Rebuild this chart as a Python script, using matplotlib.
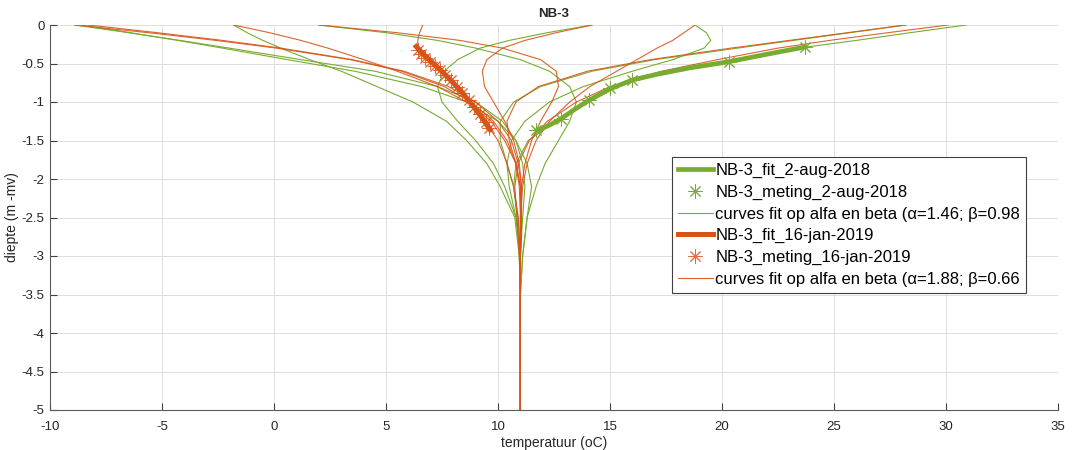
"""NB-3: gemeten en gefitte temperatuur-diepteprofielen (aug 2018 / jan 2019)."""
import matplotlib
matplotlib.use('Agg')
import matplotlib.pyplot as plt

GREEN = '#77AC30'
RED = '#D95319'

# shared depth grid (m below surface) for the thin family curves
DEPTH = [0, 0.1, 0.2, 0.3, 0.45, 0.6, 0.8, 1.0, 1.25, 1.5, 1.8, 2.1, 2.5, 3.0, 3.5, 5.0]

# curves fit op alfa en beta (alpha=1.46; beta=0.98) -- temperature per depth
GREEN_CURVES = [
    [-8.9, -6.5, -4.2, -2.0, 1.2, 4.5, 7.3, 9.0, 10.2, 10.8, 11.1, 11.2, 11.1, 11.0, 11.0, 11.0],
    [-8.6, -6.4, -4.3, -2.3, 0.6, 3.6, 6.6, 8.6, 10.0, 10.8, 11.3, 11.5, 11.3, 11.1, 11.0, 11.0],
    [-1.8, -1.2, -0.5, 0.3, 1.6, 3.0, 4.6, 6.2, 7.7, 8.6, 9.5, 10.1, 10.75, 10.95, 11.0, 11.0],
    [2.0, 5.0, 7.3, 9.0, 11.0, 12.3, 13.2, 13.5, 13.2, 12.7, 12.1, 11.7, 11.3, 11.1, 11.0, 11.0],
    [14.2, 12.2, 10.5, 9.2, 8.2, 7.6, 7.3, 7.5, 8.2, 9.0, 9.8, 10.3, 10.8, 11.0, 11.0, 11.0],
    [18.8, 19.3, 19.5, 19.2, 17.8, 16.0, 13.8, 12.3, 11.2, 10.6, 10.4, 10.5, 10.8, 11.0, 11.0, 11.0],
    [30.9, 28.4, 26.0, 23.4, 20.8, 17.7, 15.1, 13.95, 12.6, 11.35, 10.8, 10.7, 10.85, 10.95, 11.0, 11.0],
    [28.2, 25.7, 23.2, 20.7, 17.0, 14.2, 11.9, 10.7, 10.1, 10.1, 10.4, 10.7, 10.9, 11.0, 11.0, 11.0],
]

# curves fit op alfa en beta (alpha=1.88; beta=0.66)
RED_CURVES = [
    [-8.9, -5.6, -2.6, 0.1, 3.4, 5.7, 7.6, 8.8, 9.8, 10.4, 10.8, 11.0, 11.05, 11.0, 11.0, 11.0],
    [-8.3, -5.2, -2.3, 0.3, 3.5, 5.8, 7.8, 9.0, 10.0, 10.6, 10.9, 11.05, 11.05, 11.0, 11.0, 11.0],
    [-1.8, -0.2, 1.2, 2.4, 4.0, 5.5, 7.3, 8.6, 9.7, 10.3, 10.8, 11.0, 11.05, 11.0, 11.0, 11.0],
    [2.0, 5.5, 8.3, 10.2, 11.9, 12.6, 12.7, 12.4, 11.9, 11.5, 11.2, 11.05, 11.0, 11.0, 11.0, 11.0],
    [6.64, 6.5, 6.42, 6.42, 6.85, 7.4, 8.1, 8.75, 9.4, 10.0, 10.4, 10.7, 10.9, 11.0, 11.0, 11.0],
    [14.2, 12.6, 11.2, 10.2, 9.5, 9.3, 9.4, 9.8, 10.3, 10.7, 10.95, 11.05, 11.05, 11.0, 11.0, 11.0],
    [18.8, 18.3, 17.8, 17.1, 16.2, 15.3, 14.1, 13.2, 12.3, 11.7, 11.3, 11.1, 11.0, 11.0, 11.0, 11.0],
    [28.2, 25.6, 23.0, 20.4, 16.8, 14.0, 11.8, 10.8, 10.4, 10.5, 10.8, 10.95, 11.0, 11.0, 11.0, 11.0],
    [30.1, 27.4, 24.8, 22.5, 19.8, 17.3, 15.0, 13.5, 12.2, 11.4, 10.9, 10.75, 10.85, 10.95, 11.0, 11.0],
]

# 2-aug-2018: fit + meting
GREEN_FIT_T = [11.75, 12.3, 12.8, 13.4, 14.05, 15.0, 16.0, 17.1, 18.5, 20.3, 22.0, 23.7]
GREEN_FIT_Z = [1.37, 1.30, 1.22, 1.10, 0.98, 0.83, 0.714, 0.64, 0.56, 0.477, 0.38, 0.286]
GREEN_MEAS_T = [23.7, 20.3, 16.0, 15.0, 14.05, 12.8, 11.7]
GREEN_MEAS_Z = [0.286, 0.477, 0.714, 0.82, 0.98, 1.22, 1.36]

# 16-jan-2019: fit + meting
RED_FIT_T = [6.35, 6.6, 7.0, 7.45, 7.9, 8.35, 8.8, 9.2, 9.65]
RED_FIT_Z = [0.28, 0.36, 0.47, 0.59, 0.72, 0.86, 1.02, 1.17, 1.36]
RED_MEAS_T = [6.42, 6.55, 6.75, 6.95, 7.2, 7.4, 7.65, 7.9, 8.15, 8.4, 8.7, 8.95, 9.2, 9.45, 9.62]
RED_MEAS_Z = [0.33, 0.38, 0.43, 0.48, 0.53, 0.58, 0.65, 0.72, 0.80, 0.88, 0.97, 1.06, 1.16, 1.26, 1.34]

LABELS = [
    'NB-3_fit_2-aug-2018',
    'NB-3_meting_2-aug-2018',
    'curves fit op alfa en beta (\u03b1=1.46; \u03b2=0.98',
    'NB-3_fit_16-jan-2019',
    'NB-3_meting_16-jan-2019',
    'curves fit op alfa en beta (\u03b1=1.88; \u03b2=0.66',
]

STAR = (8, 2, 0)  # matlab-like asterisk


def neg(vals):
    return [-v for v in vals]


def main():
    plt.rcParams['font.family'] = ['Liberation Sans', 'DejaVu Sans']
    plt.rcParams['axes.unicode_minus'] = False
    fig = plt.figure(figsize=(10.78, 4.5), dpi=100)
    ax = fig.add_axes([50 / 1078, 40 / 450, 1008 / 1078, 385 / 450])

    h_gfit, = ax.plot(GREEN_FIT_T, neg(GREEN_FIT_Z), color=GREEN, lw=3.4, zorder=3)
    h_gmeas, = ax.plot(GREEN_MEAS_T, neg(GREEN_MEAS_Z), ls='none', marker=STAR, ms=10,
                       mec=GREEN, mew=0.7, color=GREEN, zorder=3)
    h_gcur = None
    for T in GREEN_CURVES:
        h_gcur, = ax.plot(T, neg(DEPTH), color=GREEN, lw=0.8, zorder=2)

    h_rfit, = ax.plot(RED_FIT_T, neg(RED_FIT_Z), color=RED, lw=3.6, zorder=4)
    h_rmeas, = ax.plot(RED_MEAS_T, neg(RED_MEAS_Z), ls='none', marker=STAR, ms=10,
                       mec=RED, mew=0.7, color=RED, alpha=0.85, zorder=4)
    h_rcur = None
    for T in RED_CURVES:
        h_rcur, = ax.plot(T, neg(DEPTH), color=RED, lw=0.8, alpha=0.9, zorder=2)

    ax.set_xlim(-10, 35)
    ax.set_ylim(-5, 0)
    ax.set_xticks(range(-10, 36, 5))
    ax.set_yticks([-5, -4.5, -4, -3.5, -3, -2.5, -2, -1.5, -1, -0.5, 0])
    ax.set_yticklabels(['-5', '-4.5', '-4', '-3.5', '-3', '-2.5', '-2', '-1.5', '-1', '-0.5', '0'])
    ax.grid(True, color='#dedede', lw=0.7)
    ax.set_axisbelow(True)
    for s in ('top', 'right'):
        ax.spines[s].set_visible(False)
    for s in ('left', 'bottom'):
        ax.spines[s].set_color('#5a5a5a')
        ax.spines[s].set_linewidth(0.8)
    ax.tick_params(direction='in', length=5, width=0.8, color='#404040',
                   labelsize=9.5, labelcolor='#262626')
    ax.tick_params(axis='x', pad=8)
    ax.tick_params(axis='y', pad=4)

    ax.set_xlabel('temperatuur (oC)', fontsize=10, color='#262626', labelpad=2)
    ax.set_ylabel('diepte (m -mv)', fontsize=10, color='#262626', labelpad=2)
    ax.set_title('NB-3', fontsize=9.5, fontweight='bold', color='#262626', pad=6)

    leg = ax.legend([h_gfit, h_gmeas, h_gcur, h_rfit, h_rmeas, h_rcur], LABELS,
                    loc='upper left', bbox_to_anchor=(0.617, 0.657), borderaxespad=0,
                    fontsize=12, handlelength=2.1, labelspacing=0.4,
                    handletextpad=0.15, borderpad=0.35, fancybox=False,
                    framealpha=1, edgecolor='#404040')
    leg.get_frame().set_linewidth(0.8)

    fig.savefig('out.png', dpi=100)


if __name__ == '__main__':
    main()
